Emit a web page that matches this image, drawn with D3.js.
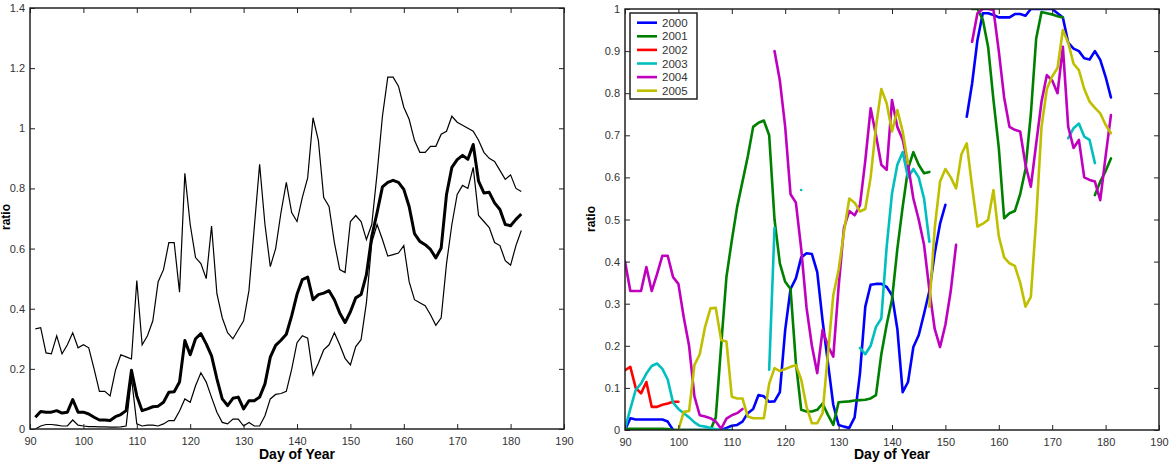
<!DOCTYPE html>
<html>
<head>
<meta charset="utf-8">
<script src="https://cdn.jsdelivr.net/npm/d3@7"></script>
<style>
body { margin: 0; background: #fff; }
text { font-family: "Liberation Sans", Arial, sans-serif; }
</style>
</head>
<body>
<svg id="chart" width="1175" height="462"></svg>
<script>
// ---- left panel: daily ratio, days 91..182 ----
var leftDays = d3.range(91, 183);
var upperRatio = [
  0.333, 0.337, 0.253, 0.25, 0.31, 0.25, 0.28, 0.32, 0.27, 0.28,
  0.27, 0.2, 0.125, 0.125, 0.11, 0.195, 0.247, 0.24, 0.233, 0.494,
  0.28, 0.31, 0.36, 0.49, 0.53, 0.62, 0.62, 0.455, 0.85, 0.68,
  0.57, 0.55, 0.5, 0.675, 0.45, 0.37, 0.32, 0.3, 0.33, 0.36,
  0.46, 0.67, 0.88, 0.68, 0.54, 0.6, 0.72, 0.82, 0.72, 0.69,
  0.77, 0.835, 1.035, 0.96, 0.77, 0.74, 0.62, 0.53, 0.52, 0.69,
  0.71, 0.69, 0.63, 0.68, 0.85, 1.04, 1.17, 1.17, 1.14, 1.07,
  1.03, 0.96, 0.92, 0.92, 0.94, 0.94, 0.98, 0.99, 1.04, 1.02,
  1.01, 1.0, 0.99, 0.96, 0.92, 0.9, 0.89, 0.86, 0.83, 0.845,
  0.8, 0.79
];
var meanRatio = [
  0.039, 0.058, 0.056, 0.056, 0.061, 0.053, 0.056, 0.098, 0.056, 0.056,
  0.05, 0.039, 0.03, 0.03, 0.028, 0.041, 0.048, 0.061, 0.195, 0.11,
  0.061, 0.067, 0.074, 0.076, 0.089, 0.122, 0.124, 0.156, 0.294, 0.247,
  0.3, 0.317, 0.283, 0.243, 0.167, 0.1, 0.078, 0.102, 0.106, 0.067,
  0.094, 0.094, 0.106, 0.15, 0.239, 0.278, 0.295, 0.315, 0.376, 0.448,
  0.497, 0.505, 0.43, 0.447, 0.452, 0.46, 0.43, 0.386, 0.354, 0.39,
  0.436, 0.447, 0.513, 0.64, 0.72, 0.805, 0.82, 0.827, 0.82, 0.797,
  0.74, 0.65, 0.624, 0.613, 0.597, 0.569, 0.602, 0.78, 0.87, 0.896,
  0.91, 0.897, 0.946, 0.824, 0.785, 0.787, 0.752, 0.73, 0.68, 0.676,
  0.697, 0.715
];
var lowerRatio = [
  0.0, 0.01, 0.015, 0.015, 0.013, 0.01, 0.01, 0.03, 0.013, 0.01,
  0.008, 0.008, 0.007, 0.007, 0.006, 0.006, 0.007, 0.01, 0.17, 0.017,
  0.01, 0.013, 0.013, 0.01, 0.017, 0.028, 0.028, 0.06, 0.1, 0.089,
  0.144, 0.187, 0.156, 0.105, 0.056, 0.022, 0.017, 0.033, 0.033, 0.01,
  0.022, 0.01, 0.01, 0.044, 0.1, 0.115, 0.118, 0.125, 0.198, 0.287,
  0.31, 0.302, 0.18, 0.219, 0.263, 0.28, 0.32, 0.28, 0.235, 0.213,
  0.274, 0.297, 0.42, 0.62, 0.68, 0.63, 0.575, 0.58, 0.585, 0.61,
  0.49, 0.43, 0.42, 0.41, 0.38, 0.345, 0.37, 0.55, 0.68, 0.78,
  0.81, 0.8, 0.87, 0.71, 0.69, 0.67, 0.62, 0.61, 0.56, 0.545,
  0.61, 0.66
];
var leftYTicks = [0, 0.2, 0.4, 0.6, 0.8, 1, 1.2, 1.4];

// ---- right panel: one series per year, days 90..181 (null = no data) ----
var rightDays = d3.range(90, 182);
var years = ["2000", "2001", "2002", "2003", "2004", "2005"];
var yearColors = ["#0000ff", "#008000", "#ff0000", "#00bfbf", "#bf00bf", "#bfbf00"];
var n = null;
var ratio2000 = [
  0, 0.028, 0.025, 0.025, 0.025, 0.025, 0.025, 0.025, 0.02, 0.0,
  0, 0, 0, 0, 0, 0, 0, 0, 0, 0.005,
  0.01, 0.012, 0.02, 0.04, 0.05, 0.083, 0.08, 0.067, 0.068, 0.09,
  0.238, 0.335, 0.36, 0.41, 0.42, 0.418, 0.375, 0.26, 0.16, 0.06,
  0.012, 0.008, 0.005, 0.03, 0.134, 0.293, 0.345, 0.347, 0.347, 0.34,
  0.32, 0.24, 0.09, 0.114, 0.197, 0.225, 0.276, 0.33, 0.42, 0.49,
  0.535, n, n, n, 0.744, 0.823, 0.926, 0.99, 0.99, 0.986,
  0.98, 0.98, 0.98, 0.988, 0.988, 0.984, 1.0, 1.0, 1.0, 1.0,
  1.0, 0.99, 0.98, 0.92, 0.906, 0.9, 0.883, 0.88, 0.9, 0.879,
  0.839, 0.79
];
var ratio2001 = [
  0.003, 0.003, 0.003, 0.003, 0.003, 0.003, 0.003, 0.003, 0.002, 0,
  0, 0, 0, 0, 0, 0, 0, 0.03, 0.2, 0.364,
  0.45, 0.53, 0.59, 0.65, 0.72, 0.73, 0.735, 0.7, 0.5, 0.396,
  0.352, 0.335, 0.16, 0.048, 0.044, 0.044, 0.048, 0.063, 0.036, 0.012,
  0.066, 0.067, 0.068, 0.07, 0.071, 0.072, 0.075, 0.083, 0.18, 0.25,
  0.31, 0.43, 0.53, 0.62, 0.66, 0.63, 0.61, 0.613, n, n,
  n, n, n, n, n, 1.0, 1.0, 0.975, 0.91, 0.784,
  0.67, 0.503, 0.515, 0.52, 0.56, 0.62, 0.75, 0.93, 0.993, 0.99,
  0.987, 0.983, 0.98, n, n, n, n, n, 0.558, 0.59,
  0.615, 0.645
];
var ratio2002 = [
  0.142, 0.15, 0.1, 0.087, 0.114, 0.055, 0.055, 0.06, 0.063, 0.067,
  0.067, n, n, n, n, n, n, n, n, n,
  n, n, n, n, n, n, n, n, n, n,
  n, n, n, n, n, n, n, n, n, n,
  n, n, n, n, n, n, n, n, n, n,
  n, n, n, n, n, n, n, n, n, n,
  n, n, n, n, n, n, n, n, n, n,
  n, n, n, n, n, n, n, n, n, n,
  n, n, n, n, n, n, n, n, n, n,
  n, n
];
var ratio2003 = [
  0.004, 0.05, 0.095, 0.11, 0.134, 0.152, 0.158, 0.145, 0.12, 0.065,
  0.05, 0.04, 0.03, 0.018, 0.01, 0.008, 0.005, 0.002, 0, 0,
  0, n, n, n, n, n, n, 0.143, 0.48, n,
  n, n, n, 0.57, n, n, n, n, n, n,
  n, n, n, n, 0.195, 0.18, 0.2, 0.245, 0.265, 0.435,
  0.562, 0.63, 0.66, 0.6, 0.62, 0.6, 0.55, 0.447, n, n,
  n, n, n, n, n, n, n, n, n, n,
  n, n, n, n, n, n, n, n, n, n,
  n, n, n, 0.693, 0.717, 0.728, 0.697, 0.689, 0.634, n,
  n, n
];
var ratio2004 = [
  0.4, 0.33, 0.33, 0.33, 0.387, 0.33, 0.37, 0.414, 0.414, 0.363,
  0.347, 0.268, 0.2, 0.08, 0.035, 0.032, 0.028, 0.02, 0.003, 0.027,
  0.035, 0.04, 0.05, n, n, n, n, n, 0.9, 0.83,
  0.72, 0.56, 0.54, 0.43, 0.29, 0.2, 0.135, 0.238, 0.2, 0.174,
  0.34, 0.48, 0.52, 0.51, 0.534, 0.64, 0.764, 0.7, 0.63, 0.618,
  0.784, 0.72, 0.69, 0.63, 0.55, 0.5, 0.44, 0.333, 0.24, 0.197,
  0.25, 0.33, 0.44, n, n, 0.922, 0.99, 1.0, 1.0, 0.998,
  0.9, 0.79, 0.72, 0.713, 0.709, 0.63, 0.578, 0.68, 0.78, 0.843,
  0.83, 0.8, 0.91, 0.72, 0.67, 0.689, 0.6, 0.594, 0.59, 0.546,
  0.65, 0.748
];
var ratio2005 = [
  n, n, n, n, n, n, n, n, n, n,
  0, 0.043, 0.045, 0.154, 0.18, 0.245, 0.289, 0.29, 0.214, 0.21,
  0.079, 0.075, 0.075, 0.032, 0.028, 0.028, 0.028, 0.11, 0.147, 0.14,
  0.145, 0.15, 0.154, 0.12, 0.055, 0.016, 0.016, 0.04, 0.18, 0.32,
  0.38, 0.47, 0.55, 0.54, 0.519, 0.525, 0.6, 0.72, 0.81, 0.776,
  0.709, 0.76, 0.709, 0.633, n, n, n, 0.293, 0.48, 0.59,
  0.62, 0.6, 0.574, 0.655, 0.681, 0.578, 0.483, 0.49, 0.499, 0.57,
  0.46, 0.41, 0.396, 0.39, 0.35, 0.293, 0.316, 0.5, 0.72, 0.81,
  0.84, 0.86, 0.95, 0.92, 0.87, 0.855, 0.81, 0.78, 0.765, 0.752,
  0.725, 0.705
];
var yearSeries = [ratio2000, ratio2001, ratio2002, ratio2003, ratio2004, ratio2005];
var rightYTicks = [0, 0.1, 0.2, 0.3, 0.4, 0.5, 0.6, 0.7, 0.8, 0.9, 1];
var dayTicks = [90, 100, 110, 120, 130, 140, 150, 160, 170, 180, 190];

var svg = d3.select("#chart");

function drawFrame(g, x, y, yTicks, w, h) {
    // inward ticks on all four sides, labels only bottom and left
    g.append("g").attr("transform", "translate(0," + h + ")")
        .call(d3.axisBottom(x).tickValues(dayTicks).tickSize(-5).tickSizeOuter(0).tickPadding(8));
    g.append("g")
        .call(d3.axisLeft(y).tickValues(yTicks).tickFormat(d => String(d)).tickSize(-5).tickSizeOuter(0).tickPadding(5));
    g.append("g")
        .call(d3.axisTop(x).tickValues(dayTicks).tickFormat("").tickSize(-5).tickSizeOuter(0));
    g.append("g").attr("transform", "translate(" + w + ",0)")
        .call(d3.axisRight(y).tickValues(yTicks).tickFormat("").tickSize(-5).tickSizeOuter(0));
    g.selectAll(".domain").remove();
    g.selectAll(".tick line").style("stroke", "#222").style("stroke-width", 1);
    g.selectAll(".tick text").style("fill", "#333").style("font-size", "11px");
    g.append("rect")
        .attr("x", 0).attr("y", 0)
        .attr("width", w).attr("height", h)
        .style("fill", "none")
        .style("stroke", "#222")
        .style("stroke-width", 1.5);
}

// ---------- left panel ----------
var L = { left: 30, top: 8, w: 534, h: 421 };
var gl = svg.append("g").attr("transform", "translate(" + L.left + "," + L.top + ")");
var xl = d3.scaleLinear().domain([90, 190]).range([0, L.w]);
var yl = d3.scaleLinear().domain([0, 1.4]).range([L.h, 0]);

var leftLine = d3.line()
    .x((d, i) => xl(leftDays[i]))
    .y(d => yl(d));

gl.append("path").datum(upperRatio).attr("d", leftLine)
    .style("fill", "none").style("stroke", "#000").style("stroke-width", 1.2);
gl.append("path").datum(lowerRatio).attr("d", leftLine)
    .style("fill", "none").style("stroke", "#000").style("stroke-width", 1.2);
gl.append("path").datum(meanRatio).attr("d", leftLine)
    .style("fill", "none").style("stroke", "#000").style("stroke-width", 3)
    .style("stroke-linejoin", "round");

drawFrame(gl, xl, yl, leftYTicks, L.w, L.h);

svg.append("text")
    .attr("x", L.left + L.w / 2).attr("y", 459)
    .attr("text-anchor", "middle")
    .style("font-size", "14px").style("font-weight", "bold")
    .text("Day of Year");
svg.append("text")
    .attr("transform", "translate(10,217) rotate(-90)")
    .attr("text-anchor", "middle")
    .style("font-size", "12px").style("font-weight", "bold")
    .text("ratio");

// ---------- right panel ----------
var R = { left: 625, top: 9, w: 534, h: 421 };
var gr = svg.append("g").attr("transform", "translate(" + R.left + "," + R.top + ")");
var xr = d3.scaleLinear().domain([90, 190]).range([0, R.w]);
var yr = d3.scaleLinear().domain([0, 1]).range([R.h, 0]);

gr.append("clipPath").attr("id", "plotClip")
    .append("rect").attr("x", 0).attr("y", 0).attr("width", R.w).attr("height", R.h);

var yearLine = d3.line()
    .defined(d => d !== null)
    .x((d, i) => xr(rightDays[i]))
    .y(d => yr(d));

gr.append("g").attr("clip-path", "url(#plotClip)")
    .selectAll(".year")
    .data(yearSeries)
    .enter()
    .append("path")
    .attr("class", "year")
    .attr("d", yearLine)
    .style("fill", "none")
    .style("stroke", (d, i) => yearColors[i])
    .style("stroke-width", 2.6)
    .style("stroke-linejoin", "round")
    .style("stroke-linecap", "round");

drawFrame(gr, xr, yr, rightYTicks, R.w, R.h);

// legend
var legend = gr.append("g").attr("transform", "translate(5,4)");
legend.append("rect")
    .attr("width", 67).attr("height", 86)
    .style("fill", "#fff").style("stroke", "#222").style("stroke-width", 1.5);
var item = legend.selectAll(".item")
    .data(years)
    .enter()
    .append("g")
    .attr("class", "item")
    .attr("transform", (d, i) => "translate(0," + (9.7 + i * 13.6) + ")");
item.append("line")
    .attr("x1", 7).attr("x2", 27)
    .style("stroke", (d, i) => yearColors[i])
    .style("stroke-width", 2.6);
item.append("text")
    .attr("x", 32).attr("y", 4)
    .style("font-size", "11.5px").style("fill", "#333")
    .text(d => d);

svg.append("text")
    .attr("x", R.left + R.w / 2).attr("y", 459)
    .attr("text-anchor", "middle")
    .style("font-size", "14px").style("font-weight", "bold")
    .text("Day of Year");
svg.append("text")
    .attr("transform", "translate(595,219) rotate(-90)")
    .attr("text-anchor", "middle")
    .style("font-size", "12px").style("font-weight", "bold")
    .text("ratio");
</script>
</body>
</html>
